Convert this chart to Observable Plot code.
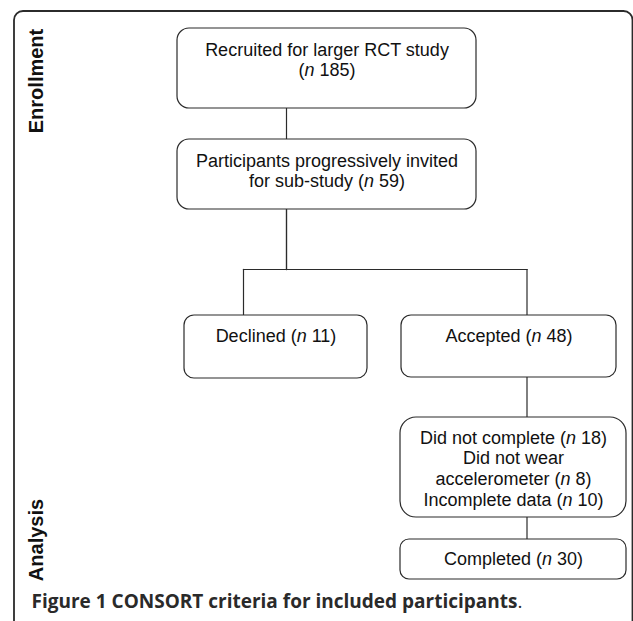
<!DOCTYPE html>
<html><head><meta charset="utf-8">
<script src="https://cdn.jsdelivr.net/npm/d3@7"></script>
<script src="https://cdn.jsdelivr.net/npm/@observablehq/plot@0.6"></script>
<style>
html,body{margin:0;padding:0;background:#fff;overflow:hidden;}
#chart svg{display:block;}
</style>
</head><body><div id="chart"></div>
<script>
// ---- data ----
const stages = ["Recruited for larger RCT study", "Participants progressively invited\nfor sub-study", "Declined", "Accepted", "Did not complete", "Completed"];
const counts = [185, 59, 11, 48, 18, 30];
const subReasons = ["Did not wear\naccelerometer", "Incomplete data"];
const subCounts = [8, 10];
const phases = ["Enrollment", "Analysis"];
const captionText = "Figure 1 CONSORT criteria for included participants.";

// ---- diagram layout (diagram units, mapped by the x / y scales) ----
const W = 633, H = 621;
const boxLayout = [
  {x1:177, x2:476, y1:28,  y2:108, rx:12, base:55,  sep:"\n"},
  {x1:177, x2:476, y1:139, y2:209, rx:12, base:166, sep:" "},
  {x1:184, x2:367, y1:315, y2:378, rx:10, base:341, sep:" "},
  {x1:401, x2:616, y1:315, y2:377, rx:10, base:341, sep:" "},
  {x1:400, x2:626, y1:417, y2:517, rx:16, base:443, sep:" "},
  {x1:400, x2:626, y1:539, y2:579, rx:9,  base:564, sep:" "}
];
// parent -> child connections (x of the vertical, optional elbow)
const edges = [
  {from:0, to:1, x:286},
  {from:1, to:2, x:286, xc:243, elbow:269},
  {from:1, to:3, x:286, xc:526.5, elbow:269},
  {from:3, to:4, x:526.5},
  {from:4, to:5, x:526.5}
];
const phaseLayout = [{x:36.5, y:80.5}, {x:36.5, y:539.5}];
const frame = [{x1:14, x2:632.5, y1:11, y2:H + 30, rx:9}];
const captionPos = {x:31, y:607};

// ---- build tables ----
const boxes = stages.map((s, i) => {
  let label = s + boxLayout[i].sep + `(n ${counts[i]})`;
  if (i === 4) label += subReasons.map((r, j) => `\n${r} (n ${subCounts[j]})`).join("");
  return {...boxLayout[i], tx:(boxLayout[i].x1 + boxLayout[i].x2) / 2, label};
});
const segs = [];
edges.forEach(e => {
  const a = boxes[e.from], b = boxes[e.to];
  if (e.elbow != null) {
    segs.push({x1:e.x, y1:a.y2, x2:e.x, y2:e.elbow});
    segs.push({x1:e.x, y1:e.elbow, x2:e.xc, y2:e.elbow});
    segs.push({x1:e.xc, y1:e.elbow, x2:e.xc, y2:b.y1});
  } else {
    segs.push({x1:e.x, y1:a.y2, x2:e.x, y2:b.y1});
  }
});
const phaseRows = phases.map((p, i) => ({label:p, ...phaseLayout[i]}));

const FS = 18, LH = 21 / 18;
const ink = "#111", lineCol = "#2b2b2b";

const chart = Plot.plot({
  width: W, height: H, margin: 0,
  x: {domain:[0, W], range:[0, W], axis:null},
  y: {domain:[0, H], range:[0, H], axis:null},
  style: {background:"#fff", fontFamily:"'Liberation Sans', Arial, sans-serif"},
  marks: [
    Plot.rect(frame, {x1:"x1", x2:"x2", y1:"y1", y2:"y2", fill:"none", stroke:lineCol, strokeWidth:1.8}),
    Plot.link(segs, {x1:"x1", y1:"y1", x2:"x2", y2:"y2", stroke:lineCol, strokeWidth:1.2, strokeLinecap:"square"}),
    Plot.rect(boxes, {x1:"x1", x2:"x2", y1:"y1", y2:"y2", fill:"#fff", stroke:lineCol, strokeWidth:1.2}),
    Plot.text(boxes, {x:"tx", y:"base", text:"label", fontSize:FS, lineHeight:LH, lineAnchor:"top",
      dy: -0.71 * LH * FS, fill:ink, textAnchor:"middle"}),
    Plot.text(phaseRows, {x:"x", y:"y", text:"label", rotate:-90, fontSize:20, fontWeight:"bold",
      lineAnchor:"middle", fill:ink}),
    Plot.text([captionPos], {x:"x", y:"y", text:() => captionText, textAnchor:"start", lineAnchor:"bottom",
      fontSize:19, fontWeight:"bold", fontFamily:"'Open Sans', sans-serif", fill:"#2a2a2a"})
  ]
});
document.getElementById("chart").appendChild(chart);

// rounded corners from the layout tables (rects are emitted in mark order: frame, then boxes)
const radii = [...frame, ...boxes].map(d => d.rx);
chart.querySelectorAll("rect").forEach((r, i) => {
  if (radii[i] != null) { r.setAttribute("rx", radii[i]); r.setAttribute("ry", radii[i]); }
});

// italic "n" in counts, regular-weight final period in caption
const NS = "http://www.w3.org/2000/svg";
chart.querySelectorAll("text").forEach(t => {
  const walker = document.createTreeWalker(t, NodeFilter.SHOW_TEXT);
  const nodes = []; let nd;
  while ((nd = walker.nextNode())) nodes.push(nd);
  nodes.forEach(node => {
    const s = node.nodeValue;
    if (s.includes("(n ")) {
      const frag = document.createDocumentFragment();
      s.split("(n ").forEach((p, k) => {
        if (k > 0) {
          frag.appendChild(document.createTextNode("("));
          const it = document.createElementNS(NS, "tspan");
          it.setAttribute("font-style", "italic");
          it.textContent = "n";
          frag.appendChild(it);
          frag.appendChild(document.createTextNode(" "));
        }
        frag.appendChild(document.createTextNode(p));
      });
      node.parentNode.replaceChild(frag, node);
    } else if (s === captionText) {
      const frag = document.createDocumentFragment();
      frag.appendChild(document.createTextNode(s.slice(0, -1)));
      const dot = document.createElementNS(NS, "tspan");
      dot.setAttribute("font-weight", "normal");
      dot.textContent = ".";
      frag.appendChild(dot);
      node.parentNode.replaceChild(frag, node);
    }
  });
});
</script>
</body></html>
